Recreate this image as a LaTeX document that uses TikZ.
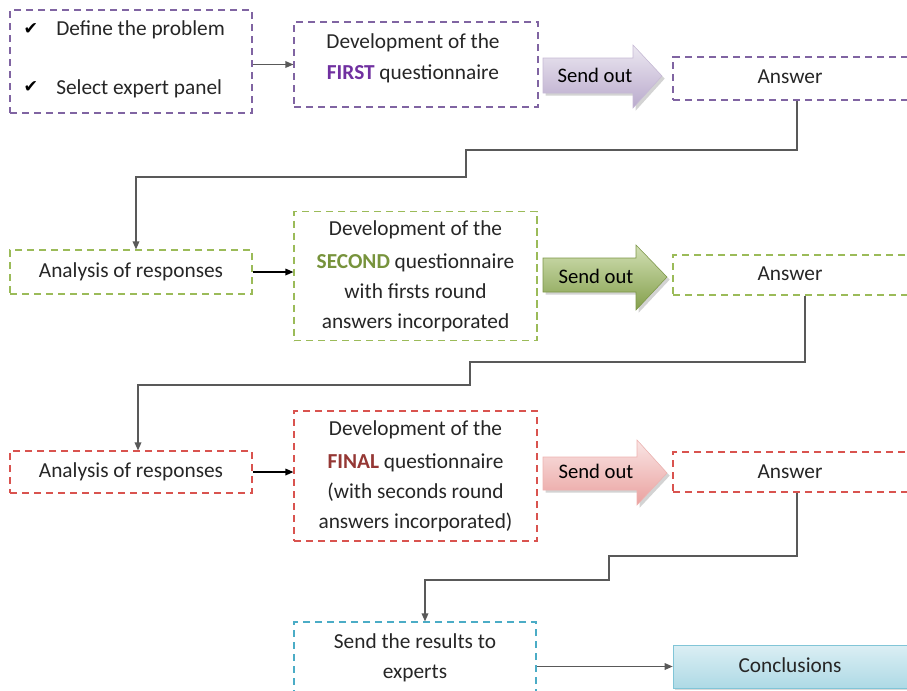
\documentclass[tikz,border=0pt]{standalone}
\usepackage{fontspec}
\setmainfont{Carlito}
\newfontfamily\symfont{DejaVu Sans}
\usetikzlibrary{arrows.meta,shadows}
\definecolor{txt}{HTML}{262626}
\definecolor{purp}{HTML}{8064A2}
\definecolor{grn}{HTML}{9BBB59}
\definecolor{redd}{HTML}{D9534F}
\definecolor{cyn}{HTML}{4BACC6}
\definecolor{linegray}{HTML}{595959}
\definecolor{firstc}{HTML}{7030A0}
\definecolor{secondc}{HTML}{77933C}
\definecolor{finalc}{HTML}{953734}
\begin{document}
\begin{tikzpicture}[x=0.75pt,y=-0.75pt,
  font=\fontsize{16}{22.5}\selectfont,
  box/.style={draw, dash pattern=on 5.5pt off 3.5pt, line width=0.9pt, align=center, inner sep=0pt, text=txt},
  conn/.style={draw=linegray, line width=0.9pt, -{Triangle[length=6pt,width=5pt]}},
  bconn/.style={draw=black, line width=0.9pt, -{Triangle[length=6pt,width=5pt]}},
  sendtxt/.style={text=black, font=\fontsize{15.5}{18}\selectfont, inner sep=0pt},
  chk/.style={text=black, inner sep=0pt, font=\symfont\fontsize{13}{13}\selectfont},
  arrshadow/.style={drop shadow={shadow xshift=2pt, shadow yshift=-2pt, opacity=0.35}}
]
\useasboundingbox (0,0) rectangle (907,690);

% ---- row 1
\node[box, draw=purp, minimum width=181.5pt, minimum height=77.25pt] (TL) at (131,61.5) {};
\node[chk] (chk1) at (31,29) {✔};
\node[anchor=west, text=txt, inner sep=0pt] (t1) at (56,30) {Define the problem};
\node[chk] (chk2) at (31,87) {✔};
\node[anchor=west, text=txt, inner sep=0pt] (t2) at (56,89) {Select expert panel};

\node[box, draw=purp, minimum width=183pt, minimum height=63.75pt] (Q1) at (416,64.5) {};
\node[align=center, text=txt, inner sep=0pt] (Q1t) at (413,58)
  {Development of the\\[1pt]{\color{firstc}\bfseries FIRST} questionnaire};

\path[arrshadow, top color=purp!15, bottom color=purp!55, draw=purp!45, line width=0.4pt]
  (543,58) -- (633,58) -- (633,45) -- (662,76) -- (633,108) -- (633,93) -- (543,93) -- cycle;
\node[sendtxt] (S1) at (595,75) {Send out};

\node[box, draw=purp, minimum width=180pt, minimum height=32.25pt] (A1) at (793,78.5) {};
\node[text=txt, inner sep=0pt] (A1t) at (790,77) {Answer};

% ---- row 2
\node[box, draw=grn, minimum width=181.5pt, minimum height=33pt] (An2) at (131,272) {Analysis of responses};
\node[box, draw=grn, minimum width=182.25pt, minimum height=96.75pt] (Q2) at (415.5,276)
  {Development of the\\[2.5pt]{\color{secondc}\bfseries SECOND} questionnaire\\with firsts round\\answers incorporated};

\path[arrshadow, top color=grn!45, bottom color=grn!85!black, draw=grn!80!black, line width=0.4pt]
  (543,258) -- (636,258) -- (636,245) -- (667,277) -- (636,310) -- (636,292) -- (543,292) -- cycle;
\node[sendtxt] (S2) at (596,276) {Send out};

\node[box, draw=grn, minimum width=180pt, minimum height=30pt] (A2) at (793,275) {};
\node[text=txt, inner sep=0pt] (A2t) at (790,274) {Answer};

% ---- row 3
\node[box, draw=redd, minimum width=181.5pt, minimum height=31.5pt] (An3) at (131,472) {Analysis of responses};
\node[box, draw=redd, minimum width=182.25pt, minimum height=97.5pt] (Q3) at (415.5,476)
  {Development of the\\[2pt]{\color{finalc}\bfseries FINAL} questionnaire\\(with seconds round\\answers incorporated)};

\path[arrshadow, top color=redd!15, bottom color=redd!55, draw=redd!45, line width=0.4pt]
  (543,457) -- (637,457) -- (637,440) -- (667,473) -- (637,505) -- (637,490) -- (543,490) -- cycle;
\node[sendtxt] (S3) at (596,471) {Send out};

\node[box, draw=redd, minimum width=180pt, minimum height=30pt] (A3) at (793,472) {};
\node[text=txt, inner sep=0pt] (A3t) at (790,472) {Answer};

% ---- row 4
\node[box, draw=cyn, minimum width=181.5pt, minimum height=54pt] (Res) at (415,658)
  {Send the results to\\experts};
\node[draw=cyn!70, line width=0.5pt, top color=cyn!20, bottom color=cyn!45, text=txt,
  drop shadow={shadow xshift=1.5pt, shadow yshift=-1.5pt, opacity=0.3},
  minimum width=180pt, minimum height=32.25pt, inner sep=0pt] (Conc) at (793,666.5) {};
\node[text=txt, inner sep=0pt] (Conct) at (790,665) {Conclusions};

% ---- connectors
\draw[conn] (TL.east |- Q1.west) -- (Q1.west);
\draw[bconn] (An2.east) -- (Q2.west |- An2.east);
\draw[bconn] (An3.east) -- (Q3.west |- An3.east);
\draw[conn] (Res.east |- Conc.west) -- (Conc.west);

\coordinate (k1) at (797,150);
\coordinate (k2) at (466,177);
\coordinate (k3) at (136,177);
\draw[conn] (A1.south -| k1) -- (k1) -| (k2) -- (k3) -- (An2.north -| k3);

\coordinate (k4) at (805,362);
\coordinate (k5) at (470,385);
\coordinate (k6) at (138,385);
\draw[conn] (A2.south -| k4) -- (k4) -| (k5) -- (k6) -- (An3.north -| k6);

\coordinate (k7) at (797,556);
\coordinate (k8) at (609,580);
\coordinate (k9) at (425,580);
\draw[conn] (A3.south -| k7) -- (k7) -| (k8) -- (k9) -- (Res.north -| k9);
\end{tikzpicture}
\end{document}
